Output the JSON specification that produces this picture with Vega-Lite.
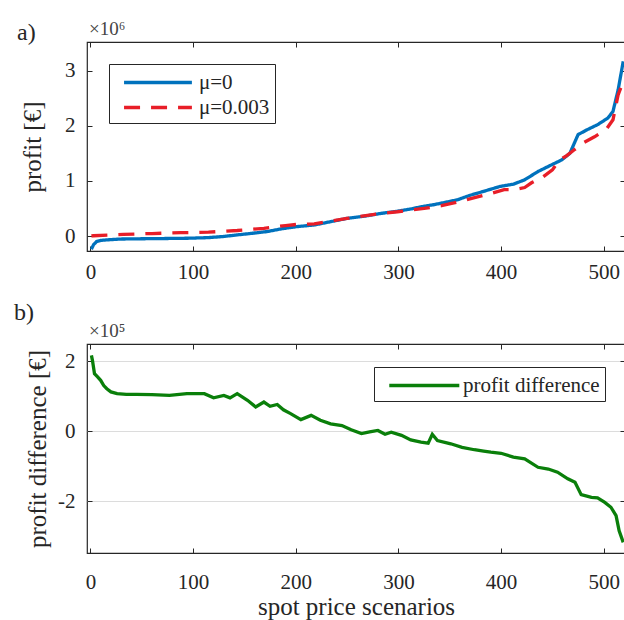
{
  "$schema": "https://vega.github.io/schema/vega-lite/v6.json",
  "padding": {"left": 13, "top": 19, "right": 0, "bottom": 0},
  "spacing": 17,
  "config": {
    "font": "Liberation Serif",
    "view": {"stroke": "#262626", "strokeWidth": 1.2},
    "axis": {
      "domain": false,
      "tickColor": "#262626",
      "tickSize": -5,
      "labelFont": "Liberation Serif",
      "titleFont": "Liberation Serif",
      "labelFontSize": 21,
      "labelColor": "#262626",
      "titleFontSize": 25,
      "titleFontWeight": "normal",
      "titleColor": "#262626",
      "labelPadding": 17,
      "grid": false,
      "labelExpr": "toString(datum.value)"
    },
    "legend": {
      "orient": "none",
      "title": null,
      "strokeColor": "#262626",
      "fillColor": "white",
      "labelFont": "Liberation Serif",
      "labelFontSize": 21,
      "labelColor": "#262626",
      "padding": 5
    },
    "title": {"fontWeight": "normal", "color": "#262626", "font": "Liberation Serif"}
  },
  "datasets": {
    "profits": [
      {"scenario": 1, "profit": -0.24, "series": "μ=0"},
      {"scenario": 3, "profit": -0.16, "series": "μ=0"},
      {"scenario": 6, "profit": -0.10, "series": "μ=0"},
      {"scenario": 10, "profit": -0.08, "series": "μ=0"},
      {"scenario": 16, "profit": -0.07, "series": "μ=0"},
      {"scenario": 29, "profit": -0.055, "series": "μ=0"},
      {"scenario": 50, "profit": -0.05, "series": "μ=0"},
      {"scenario": 75, "profit": -0.045, "series": "μ=0"},
      {"scenario": 96, "profit": -0.04, "series": "μ=0"},
      {"scenario": 114, "profit": -0.03, "series": "μ=0"},
      {"scenario": 129, "profit": -0.01, "series": "μ=0"},
      {"scenario": 143, "profit": 0.02, "series": "μ=0"},
      {"scenario": 158, "profit": 0.05, "series": "μ=0"},
      {"scenario": 172, "profit": 0.08, "series": "μ=0"},
      {"scenario": 186, "profit": 0.13, "series": "μ=0"},
      {"scenario": 201, "profit": 0.17, "series": "μ=0"},
      {"scenario": 218, "profit": 0.20, "series": "μ=0"},
      {"scenario": 234, "profit": 0.26, "series": "μ=0"},
      {"scenario": 250, "profit": 0.32, "series": "μ=0"},
      {"scenario": 267, "profit": 0.36, "series": "μ=0"},
      {"scenario": 283, "profit": 0.41, "series": "μ=0"},
      {"scenario": 299, "profit": 0.45, "series": "μ=0"},
      {"scenario": 312, "profit": 0.49, "series": "μ=0"},
      {"scenario": 322, "profit": 0.53, "series": "μ=0"},
      {"scenario": 335, "profit": 0.57, "series": "μ=0"},
      {"scenario": 348, "profit": 0.62, "series": "μ=0"},
      {"scenario": 358, "profit": 0.66, "series": "μ=0"},
      {"scenario": 370, "profit": 0.74, "series": "μ=0"},
      {"scenario": 383, "profit": 0.81, "series": "μ=0"},
      {"scenario": 399, "profit": 0.90, "series": "μ=0"},
      {"scenario": 412, "profit": 0.94, "series": "μ=0"},
      {"scenario": 423, "profit": 1.02, "series": "μ=0"},
      {"scenario": 436, "profit": 1.17, "series": "μ=0"},
      {"scenario": 449, "profit": 1.29, "series": "μ=0"},
      {"scenario": 459, "profit": 1.38, "series": "μ=0"},
      {"scenario": 467, "profit": 1.50, "series": "μ=0"},
      {"scenario": 475, "profit": 1.84, "series": "μ=0"},
      {"scenario": 484, "profit": 1.93, "series": "μ=0"},
      {"scenario": 494, "profit": 2.02, "series": "μ=0"},
      {"scenario": 504, "profit": 2.14, "series": "μ=0"},
      {"scenario": 509, "profit": 2.26, "series": "μ=0"},
      {"scenario": 514, "profit": 2.65, "series": "μ=0"},
      {"scenario": 519, "profit": 3.17, "series": "μ=0"},
      {"scenario": 1, "profit": 0.0, "series": "μ=0.003"},
      {"scenario": 3, "profit": 0.005, "series": "μ=0.003"},
      {"scenario": 32, "profit": 0.03, "series": "μ=0.003"},
      {"scenario": 60, "profit": 0.045, "series": "μ=0.003"},
      {"scenario": 88, "profit": 0.06, "series": "μ=0.003"},
      {"scenario": 115, "profit": 0.07, "series": "μ=0.003"},
      {"scenario": 143, "profit": 0.10, "series": "μ=0.003"},
      {"scenario": 169, "profit": 0.14, "series": "μ=0.003"},
      {"scenario": 190, "profit": 0.19, "series": "μ=0.003"},
      {"scenario": 201, "profit": 0.21, "series": "μ=0.003"},
      {"scenario": 218, "profit": 0.22, "series": "μ=0.003"},
      {"scenario": 250, "profit": 0.32, "series": "μ=0.003"},
      {"scenario": 283, "profit": 0.41, "series": "μ=0.003"},
      {"scenario": 299, "profit": 0.44, "series": "μ=0.003"},
      {"scenario": 325, "profit": 0.50, "series": "μ=0.003"},
      {"scenario": 342, "profit": 0.55, "series": "μ=0.003"},
      {"scenario": 354, "profit": 0.60, "series": "μ=0.003"},
      {"scenario": 377, "profit": 0.71, "series": "μ=0.003"},
      {"scenario": 392, "profit": 0.78, "series": "μ=0.003"},
      {"scenario": 403, "profit": 0.84, "series": "μ=0.003"},
      {"scenario": 412, "profit": 0.84, "series": "μ=0.003"},
      {"scenario": 423, "profit": 0.88, "series": "μ=0.003"},
      {"scenario": 430, "profit": 0.97, "series": "μ=0.003"},
      {"scenario": 440, "profit": 1.06, "series": "μ=0.003"},
      {"scenario": 450, "profit": 1.20, "series": "μ=0.003"},
      {"scenario": 457, "profit": 1.38, "series": "μ=0.003"},
      {"scenario": 464, "profit": 1.46, "series": "μ=0.003"},
      {"scenario": 471, "profit": 1.56, "series": "μ=0.003"},
      {"scenario": 481, "profit": 1.70, "series": "μ=0.003"},
      {"scenario": 491, "profit": 1.80, "series": "μ=0.003"},
      {"scenario": 497, "profit": 1.87, "series": "μ=0.003"},
      {"scenario": 503, "profit": 1.95, "series": "μ=0.003"},
      {"scenario": 509, "profit": 2.11, "series": "μ=0.003"},
      {"scenario": 514, "profit": 2.56, "series": "μ=0.003"},
      {"scenario": 517, "profit": 2.71, "series": "μ=0.003"},
      {"scenario": 519, "profit": 2.80, "series": "μ=0.003"}
    ],
    "diff": [
      {"scenario": 1, "diff": 2.16, "series": "profit difference"},
      {"scenario": 2, "diff": 2.02, "series": "profit difference"},
      {"scenario": 4, "diff": 1.64, "series": "profit difference"},
      {"scenario": 7, "diff": 1.55, "series": "profit difference"},
      {"scenario": 10, "diff": 1.45, "series": "profit difference"},
      {"scenario": 13, "diff": 1.30, "series": "profit difference"},
      {"scenario": 16, "diff": 1.21, "series": "profit difference"},
      {"scenario": 20, "diff": 1.12, "series": "profit difference"},
      {"scenario": 26, "diff": 1.07, "series": "profit difference"},
      {"scenario": 35, "diff": 1.05, "series": "profit difference"},
      {"scenario": 45, "diff": 1.05, "series": "profit difference"},
      {"scenario": 60, "diff": 1.04, "series": "profit difference"},
      {"scenario": 77, "diff": 1.02, "series": "profit difference"},
      {"scenario": 94, "diff": 1.07, "series": "profit difference"},
      {"scenario": 111, "diff": 1.07, "series": "profit difference"},
      {"scenario": 120, "diff": 0.95, "series": "profit difference"},
      {"scenario": 130, "diff": 1.02, "series": "profit difference"},
      {"scenario": 136, "diff": 0.95, "series": "profit difference"},
      {"scenario": 143, "diff": 1.07, "series": "profit difference"},
      {"scenario": 153, "diff": 0.88, "series": "profit difference"},
      {"scenario": 161, "diff": 0.69, "series": "profit difference"},
      {"scenario": 169, "diff": 0.83, "series": "profit difference"},
      {"scenario": 175, "diff": 0.71, "series": "profit difference"},
      {"scenario": 182, "diff": 0.76, "series": "profit difference"},
      {"scenario": 188, "diff": 0.61, "series": "profit difference"},
      {"scenario": 195, "diff": 0.50, "series": "profit difference"},
      {"scenario": 205, "diff": 0.33, "series": "profit difference"},
      {"scenario": 215, "diff": 0.45, "series": "profit difference"},
      {"scenario": 224, "diff": 0.31, "series": "profit difference"},
      {"scenario": 234, "diff": 0.21, "series": "profit difference"},
      {"scenario": 245, "diff": 0.16, "series": "profit difference"},
      {"scenario": 254, "diff": 0.04, "series": "profit difference"},
      {"scenario": 264, "diff": -0.07, "series": "profit difference"},
      {"scenario": 272, "diff": -0.02, "series": "profit difference"},
      {"scenario": 280, "diff": 0.02, "series": "profit difference"},
      {"scenario": 287, "diff": -0.09, "series": "profit difference"},
      {"scenario": 293, "diff": -0.03, "series": "profit difference"},
      {"scenario": 303, "diff": -0.12, "series": "profit difference"},
      {"scenario": 312, "diff": -0.25, "series": "profit difference"},
      {"scenario": 322, "diff": -0.31, "series": "profit difference"},
      {"scenario": 329, "diff": -0.34, "series": "profit difference"},
      {"scenario": 333, "diff": -0.09, "series": "profit difference"},
      {"scenario": 338, "diff": -0.27, "series": "profit difference"},
      {"scenario": 351, "diff": -0.36, "series": "profit difference"},
      {"scenario": 362, "diff": -0.46, "series": "profit difference"},
      {"scenario": 374, "diff": -0.53, "series": "profit difference"},
      {"scenario": 383, "diff": -0.57, "series": "profit difference"},
      {"scenario": 390, "diff": -0.60, "series": "profit difference"},
      {"scenario": 400, "diff": -0.63, "series": "profit difference"},
      {"scenario": 412, "diff": -0.74, "series": "profit difference"},
      {"scenario": 423, "diff": -0.79, "series": "profit difference"},
      {"scenario": 436, "diff": -1.03, "series": "profit difference"},
      {"scenario": 446, "diff": -1.08, "series": "profit difference"},
      {"scenario": 455, "diff": -1.17, "series": "profit difference"},
      {"scenario": 465, "diff": -1.36, "series": "profit difference"},
      {"scenario": 472, "diff": -1.46, "series": "profit difference"},
      {"scenario": 478, "diff": -1.81, "series": "profit difference"},
      {"scenario": 488, "diff": -1.89, "series": "profit difference"},
      {"scenario": 494, "diff": -1.90, "series": "profit difference"},
      {"scenario": 501, "diff": -2.03, "series": "profit difference"},
      {"scenario": 507, "diff": -2.17, "series": "profit difference"},
      {"scenario": 512, "diff": -2.41, "series": "profit difference"},
      {"scenario": 515, "diff": -2.84, "series": "profit difference"},
      {"scenario": 519, "diff": -3.17, "series": "profit difference"}
    ]
  },
  "vconcat": [
    {
      "width": 538,
      "height": 209,
      "title": {"text": "a)", "anchor": "start", "frame": "group", "dx": -70, "fontSize": 24, "offset": -25},
      "layer": [
        {
          "data": {"name": "profits"},
          "mark": {"type": "line", "strokeWidth": 3.3, "clip": true},
          "encoding": {
            "x": {"field": "scenario", "type": "quantitative", "scale": {"domain": [-3.3, 520.7], "nice": false, "zero": false}, "axis": {"values": [0, 100, 200, 300, 400, 500], "title": null, "labelPadding": 15}},
            "y": {"field": "profit", "type": "quantitative", "scale": {"domain": [-0.272, 3.52], "nice": false, "zero": false}, "axis": {"values": [0, 1, 2, 3], "title": "profit [€]", "titlePadding": 19}},
            "color": {"field": "series", "type": "nominal", "scale": {"domain": ["μ=0", "μ=0.003"], "range": ["#0072BD", "#E81E28"]}, "legend": {"legendX": 22, "legendY": 22, "symbolType": "M-1,0M-0.3,0H5.6", "symbolSize": 529, "symbolStrokeWidth": 3.3, "labelOffset": 58, "rowPadding": 1}},
            "strokeDash": {"field": "series", "type": "nominal", "scale": {"domain": ["μ=0", "μ=0.003"], "range": [[1, 0], [16, 11]]}, "legend": {"legendX": 22, "legendY": 22, "symbolType": "M-1,0M-0.3,0H5.6", "symbolSize": 529, "symbolStrokeWidth": 3.3, "labelOffset": 58, "rowPadding": 1}},
            "order": {"field": "scenario"}
          }
        },
        {
          "data": {"values": [{"label": "×10⁶"}]},
          "mark": {"type": "text", "align": "left", "baseline": "bottom", "dx": 2, "dy": -3, "fontSize": 19, "color": "#444444"},
          "encoding": {
            "x": {"datum": -3.3, "type": "quantitative", "axis": {"orient": "top", "values": [0, 100, 200, 300, 400, 500], "labels": false, "title": null}},
            "y": {"datum": 3.52, "type": "quantitative", "axis": {"orient": "right", "values": [0, 1, 2, 3], "labels": false, "title": null}},
            "text": {"field": "label"}
          }
        }
      ],
      "resolve": {"axis": {"x": "independent", "y": "independent"}}
    },
    {
      "width": 538,
      "height": 209,
      "title": {"text": "b)", "anchor": "start", "frame": "group", "dx": -73, "fontSize": 24, "offset": -3},
      "layer": [
        {
          "data": {"name": "diff"},
          "mark": {"type": "line", "strokeWidth": 3.3, "clip": true},
          "encoding": {
            "x": {"field": "scenario", "type": "quantitative", "scale": {"domain": [-3.3, 520.7], "nice": false, "zero": false}, "axis": {"values": [0, 100, 200, 300, 400, 500], "title": "spot price scenarios", "labelPadding": 23, "titlePadding": 2}},
            "y": {"field": "diff", "type": "quantitative", "scale": {"domain": [-3.474, 2.485], "nice": false, "zero": false}, "axis": {"values": [-2, 0, 2], "title": "profit difference [€]", "grid": true, "gridColor": "#dcdcdc", "titlePadding": 7}},
            "color": {"field": "series", "type": "nominal", "scale": {"range": ["#0A7F0A"]}, "legend": {"legendX": 287, "legendY": 23, "symbolType": "M-1,0M-0.28,0H5.81", "symbolSize": 529, "symbolStrokeWidth": 3.3, "labelOffset": 57}},
            "order": {"field": "scenario"}
          }
        },
        {
          "data": {"values": [{"label": "×10⁵"}]},
          "mark": {"type": "text", "align": "left", "baseline": "bottom", "dx": 2, "dy": -3, "fontSize": 19, "color": "#444444"},
          "encoding": {
            "x": {"datum": -3.3, "type": "quantitative", "axis": {"orient": "top", "values": [0, 100, 200, 300, 400, 500], "labels": false, "title": null}},
            "y": {"datum": 2.485, "type": "quantitative", "axis": {"orient": "right", "values": [-2, 0, 2], "labels": false, "title": null}},
            "text": {"field": "label"}
          }
        }
      ],
      "resolve": {"axis": {"x": "independent", "y": "independent"}}
    }
  ],
  "resolve": {"scale": {"color": "independent", "strokeDash": "independent"}}
}
